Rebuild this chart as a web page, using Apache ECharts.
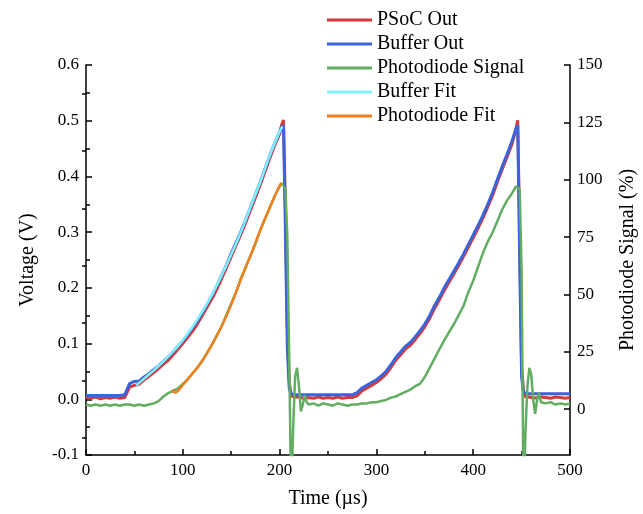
<!DOCTYPE html>
<html>
<head>
<meta charset="utf-8">
<script src="https://cdn.jsdelivr.net/npm/echarts@6/dist/echarts.min.js"></script>
<style>html,body{margin:0;padding:0;background:#fff}#c{width:643px;height:514px}</style>
</head>
<body>
<div id="c"></div>
<script>
const timeUs = [0,5,10,15,20,25,30,35,40,45,50,55,60,65,70,75,80,85,90,95,100,105,110,115,120,125,130,135,140,145,150,155,160,165,170,175,180,185,190,195,200,
202,204,206,208,210,212,214,216,218,220,222,224,226,228,
230,235,240,245,250,255,260,265,270,275,280,285,290,295,300,305,310,315,320,325,330,335,340,345,350,355,360,365,370,375,380,385,390,395,400,405,410,415,420,425,430,435,440,
442,444,446,448,450,452,454,456,458,460,462,464,466,468,470,
475,480,485,490,495,500];

const bufferOut = [.007,.007,.007,.007,.007,.007,.007,.007,.008,.028,.032,.033,.040,.046,.053,.060,.068,.076,.085,.095,.105,.116,.128,.141,.155,.170,.186,.203,.222,.241,.262,.281,.301,.322,.345,.367,.390,.414,.438,.460,.480,
.488,.492,.300,.090,.018,.010,.008,.008,.008,.008,.008,.008,.008,.008,
.008,.008,.008,.008,.008,.008,.008,.008,.008,.008,.012,.020,.025,.030,.035,.042,.050,.062,.075,.085,.095,.102,.112,.123,.135,.150,.168,.183,.200,.215,.230,.245,.261,.278,.295,.312,.330,.350,.371,.395,.418,.440,.463,
.474,.485,.492,.250,.040,.012,.010,.010,.010,.010,.010,.010,.010,.010,.010,
.010,.010,.010,.010,.010,.010];

const psocOut = [.003,.002,.004,.001,.003,.002,.004,.002,.003,.022,.025,.027,.035,.041,.048,.055,.063,.070,.080,.090,.100,.111,.122,.135,.150,.165,.180,.197,.216,.236,.256,.276,.296,.317,.340,.362,.385,.409,.433,.456,.476,
.492,.501,.350,.130,.030,.006,.003,.004,.002,.004,.003,.002,.004,.003,
.003,.002,.004,.002,.003,.002,.004,.002,.003,.003,.006,.015,.020,.025,.030,.037,.045,.057,.070,.080,.090,.097,.107,.118,.130,.145,.163,.178,.195,.210,.225,.240,.256,.273,.290,.307,.325,.345,.366,.390,.413,.435,.458,
.470,.484,.501,.300,.060,.015,.004,.002,.004,.003,.002,.004,.003,.002,.004,
.003,.002,.004,.003,.002,.003];

const photodiode = [2,1.5,2,1.5,2,1.5,2,1.5,2,2,1.5,2,1.5,2,2.5,3.5,5.5,7,8,9,11,13,15.5,18,21,24.5,28,32,36,41,46,51,57,62,67,72,78,83,88,93,97,
98.5,98,96,75,20,-40,-8,14,18,10,-1,2,6,3,
2,2.5,1.5,2.5,2,1.5,2.5,2,1.5,2,2,2.5,2.5,3,3,3.5,4,5,5.5,6.5,7.5,8.5,10,11,14,18,22,26,30,33.5,37,41,45,51,56,62,68,73,77,82,87,91,94,
95.5,97,97.7,96,60,-40,-10,10,18,15,4,-2,4,7,3,
2.5,3,2,2.5,2,2.5];

const bufferFitTime = [52,60,70,80,90,100,110,120,130,140,150,160,170,180,190,200,203];
const bufferFitV = [.025,.037,.052,.068,.086,.106,.13,.157,.187,.222,.26,.3,.345,.39,.438,.48,.49];

const pdFitTime = [89,92,95,100,110,120,130,140,150,160,170,180,190,200,202];
const pdFitP = [8.5,7.2,8,10.5,15.5,21,28,36,45.5,56.5,67,78,88,97.5,98.5];

const rightLabels = [0,25,50,75,100,125,150];
const rightMinor = [-12.5,12.5,37.5,62.5,87.5,112.5,137.5];

const zip = (a, b) => a.map((t, i) => [t, b[i]]);
const FONT = 'Liberation Serif';
const axisLineStyle = { color: '#000', width: 1.5 };

const chart = echarts.init(document.getElementById('c'), null, { renderer: 'canvas' });
chart.setOption({
  animation: false,
  backgroundColor: '#fff',
  textStyle: { fontFamily: FONT },
  grid: { left: 86, right: 73, top: 65, bottom: 59, containLabel: false, outerBoundsMode: 'none' },
  legend: {
    orient: 'vertical', left: 322, top: 5,
    icon: 'rect', itemWidth: 45, itemHeight: 3, itemGap: 4,
    textStyle: { fontFamily: FONT, fontSize: 20, color: '#000', padding: [0, 0, 0, 0] },
    data: ['PSoC Out', 'Buffer Out', 'Photodiode Signal', 'Buffer Fit', 'Photodiode Fit']
  },
  xAxis: {
    type: 'value', min: 0, max: 500, interval: 100,
    name: 'Time (\u00b5s)', nameLocation: 'middle', nameGap: 34,
    nameTextStyle: { fontFamily: FONT, fontSize: 20, color: '#000' },
    axisLine: { show: true, onZero: false, lineStyle: axisLineStyle },
    axisTick: { show: true, inside: true, length: 6, lineStyle: axisLineStyle },
    minorTick: { show: true, splitNumber: 2, length: 4, lineStyle: { color: '#000', width: 1.5 } },
    axisLabel: { fontFamily: FONT, fontSize: 17, color: '#000', margin: 7 },
    splitLine: { show: false }
  },
  yAxis: [
    {
      type: 'value', min: -0.1, max: 0.6, interval: 0.1, position: 'left',
      name: 'Voltage (V)', nameLocation: 'middle', nameGap: 48,
      nameTextStyle: { fontFamily: FONT, fontSize: 20, color: '#000' },
      axisLine: { show: true, onZero: false, lineStyle: axisLineStyle },
      axisTick: { show: true, inside: true, length: 6, lineStyle: axisLineStyle },
      minorTick: { show: true, splitNumber: 2, length: 4, lineStyle: { color: '#000', width: 1.5 } },
      axisLabel: { fontFamily: FONT, fontSize: 17, color: '#000', margin: 7, formatter: v => v.toFixed(1) },
      splitLine: { show: false }
    },
    {
      type: 'value', min: -20, max: 150, position: 'right',
      name: 'Photodiode Signal (%)', nameLocation: 'middle', nameGap: 48, nameRotate: 90,
      nameTextStyle: { fontFamily: FONT, fontSize: 20, color: '#000' },
      axisLine: { show: true, onZero: false, lineStyle: axisLineStyle },
      axisTick: { show: true, inside: true, length: 6, lineStyle: axisLineStyle, customValues: rightLabels },
      axisLabel: { fontFamily: FONT, fontSize: 17, color: '#000', margin: 7, customValues: rightLabels },
      splitLine: { show: false }
    },
    {
      type: 'value', min: -20, max: 150, position: 'right',
      axisLine: { show: false },
      axisTick: { show: true, inside: true, length: 4, lineStyle: axisLineStyle, customValues: rightMinor },
      axisLabel: { show: false, customValues: rightMinor },
      splitLine: { show: false }
    }
  ],
  series: [
    { name: 'PSoC Out', type: 'line', yAxisIndex: 0, symbol: 'none', showSymbol: false,
      color: '#d8393b', lineStyle: { width: 3, color: '#d8393b' }, data: zip(timeUs, psocOut) },
    { name: 'Buffer Out', type: 'line', yAxisIndex: 0, symbol: 'none', showSymbol: false,
      color: '#3c64d8', lineStyle: { width: 3, color: '#3c64d8' }, data: zip(timeUs, bufferOut) },
    { name: 'Photodiode Signal', type: 'line', yAxisIndex: 1, symbol: 'none', showSymbol: false,
      color: '#62ad62', lineStyle: { width: 2.5, color: '#62ad62' }, data: zip(timeUs, photodiode) },
    { name: 'Buffer Fit', type: 'line', yAxisIndex: 0, symbol: 'none', showSymbol: false, smooth: true,
      color: '#80f2ff', lineStyle: { width: 2.5, color: '#80f2ff' }, data: zip(bufferFitTime, bufferFitV) },
    { name: 'Photodiode Fit', type: 'line', yAxisIndex: 1, symbol: 'none', showSymbol: false, smooth: true,
      color: '#f0801e', lineStyle: { width: 2.5, color: '#f0801e' }, data: zip(pdFitTime, pdFitP) }
  ]
});
</script>
</body>
</html>
